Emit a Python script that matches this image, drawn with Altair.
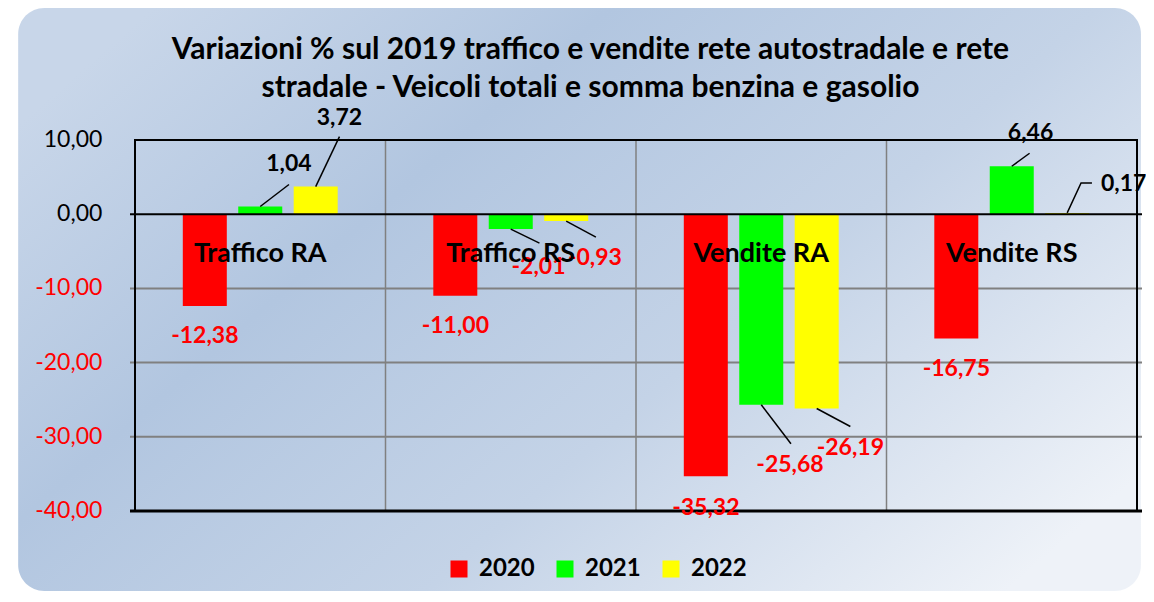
import altair as alt
import pandas as pd

# ---------------- data ----------------
categories = ["Traffico RA", "Traffico RS", "Vendite RA", "Vendite RS"]
years = ["2020", "2021", "2022"]
values_2020 = [-12.38, -11.00, -35.32, -16.75]
values_2021 = [1.04, -2.01, -25.68, 6.46]
values_2022 = [3.72, -0.93, -26.19, 0.17]
series = [values_2020, values_2021, values_2022]
year_colors = ["#ff0000", "#00ff00", "#ffff00"]
y_ticks = [-40, -30, -20, -10, 0, 10]
title_lines = [
    "Variazioni % sul 2019 traffico e vendite rete autostradale e rete",
    "stradale - Veicoli totali e somma benzina e gasolio",
]

# ---------------- layout / style (pixels) ----------------
W, H = 1012, 371
X_DOM = [0, len(categories)]
Y_DOM = [-40, 10]
PX_X = W / (X_DOM[1] - X_DOM[0])
PX_Y = H / (Y_DOM[1] - Y_DOM[0])
BAR_STEP = 56
BAR_W = 44
CAT_LABEL_Y = -5.3
PAD = {"left": 122, "top": 132, "right": 4, "bottom": 80}


def px_to_x(px):
    return X_DOM[0] + px / PX_X


def px_to_y(py):  # py measured downward from the top of the plot area
    return Y_DOM[1] - py / PX_Y


# label offsets (px, +y = down) from the end of each bar, per year / category
text_off = [
    [(0, 30), (0, 30), (0, 32), (0, 31)],
    [(29, -42), (28, 38), (29, 60), (19, -33)],
    [(24, -69), (29, 37), (34, 39), (57, -29)],
]
# leader-line points (px) from the end of each bar
leader_pts = [
    [None, None, None, None],
    [[(0, 0), (29, -22)], [(0, 0), (29, 14)], [(0, 0), (30, 39)], [(0, 0), (18, -13)]],
    [[(0, 0), (24, -50)], [(0, 0), (30, 16)], [(0, 0), (34, 18)], [(0, 0), (14, -30), (25, -30)]],
]

rows, lrows = [], []
for yi, (yr, vals) in enumerate(zip(years, series)):
    for ci, cat in enumerate(categories):
        v = vals[ci]
        xc = ci + 0.5 + (yi - 1) * BAR_STEP / PX_X
        tdx, tdy = text_off[yi][ci]
        rows.append(dict(
            category=cat, year=yr, value=v, xc=xc,
            lx=xc + tdx / PX_X, ly=v - tdy / PX_Y,
            label=f"{v:.2f}".replace(".", ","),
        ))
        pts = leader_pts[yi][ci]
        if pts:
            for k, (px, py) in enumerate(pts):
                lrows.append(dict(lid=f"{yr}-{cat}", order=k,
                                  x=xc + px / PX_X, y=v - py / PX_Y))

df = pd.DataFrame(rows)
ldf = pd.DataFrame(lrows)
cdf = pd.DataFrame({"category": categories,
                    "cx": [i + 0.5 for i in range(len(categories))],
                    "cy": [CAT_LABEL_Y] * len(categories)})
tick_df = pd.DataFrame({"v": y_ticks,
                        "t": [f"{t:.2f}".replace(".", ",") for t in y_ticks],
                        "tx": [px_to_x(-33)] * len(y_ticks)})
grid_h = pd.DataFrame({"v": [t for t in y_ticks if t not in (0, Y_DOM[0], Y_DOM[1])]})
grid_v = pd.DataFrame({"v": list(range(X_DOM[0] + 1, X_DOM[1]))})
zero_df = pd.DataFrame({"v": [0]})
frame_df = pd.DataFrame({"x0": [X_DOM[0]], "x1": [X_DOM[1]], "y0": [Y_DOM[0]], "y1": [Y_DOM[1]]})
bottom_df = pd.DataFrame({"v": [Y_DOM[0]]})
bg_df = pd.DataFrame({"x0": [px_to_x(-118)], "x1": [px_to_x(W + PAD["right"])],
                      "y0": [px_to_y(-PAD["top"])], "y1": [px_to_y(H + PAD["bottom"])]})
title_df = pd.DataFrame({"t": title_lines,
                         "tx": [px_to_x(460)] * 2,
                         "ty": [px_to_y(-90), px_to_y(-52)]})

FONT = "Lato"
xscale = alt.Scale(domain=X_DOM, nice=False, zero=False)
yscale = alt.Scale(domain=Y_DOM, nice=False, zero=False)


def X(f):
    return alt.X(f, scale=xscale, axis=None)


def Y(f):
    return alt.Y(f, scale=yscale, axis=None)


grad = alt.Gradient(
    gradient="linear", x1=0, y1=0.2, x2=1, y2=0.8,
    stops=[
        alt.GradientStop(color="#c8d6e9", offset=0),
        alt.GradientStop(color="#b2c6e0", offset=0.3),
        alt.GradientStop(color="#c4d3e7", offset=0.62),
        alt.GradientStop(color="#eef2f8", offset=1),
    ],
)

bg = alt.Chart(bg_df).mark_rect(fill=grad, cornerRadius=26).encode(
    x=X("x0:Q"), x2="x1:Q", y=Y("y0:Q"), y2="y1:Q"
)

hgrid = alt.Chart(grid_h).mark_rule(color="#808080", strokeWidth=2).encode(y=Y("v:Q"))
vgrid = alt.Chart(grid_v).mark_rule(color="#808080", strokeWidth=1.5).encode(x=X("v:Q"))

bars = alt.Chart(df).mark_bar(size=BAR_W, orient="vertical").encode(
    x=X("xc:Q"),
    y=Y("value:Q"),
    color=alt.Color(
        "year:N",
        scale=alt.Scale(domain=years, range=year_colors),
        legend=alt.Legend(
            title=None, orient="none", legendX=317, legendY=417, direction="horizontal",
            symbolType="square", symbolSize=289, symbolStrokeWidth=0,
            labelFont=FONT, labelFontSize=24, labelFontWeight="bold", labelColor="#000000",
            labelOffset=8, columnPadding=18,
        ),
    ),
)

zero = alt.Chart(zero_df).mark_rule(color="#000000", strokeWidth=2).encode(y=Y("v:Q"))
bottom = alt.Chart(bottom_df).mark_rule(color="#000000", strokeWidth=3).encode(y=Y("v:Q"))

frame = alt.Chart(frame_df).mark_rect(fillOpacity=0, stroke="#000000", strokeWidth=2).encode(
    x=X("x0:Q"), x2="x1:Q", y=Y("y0:Q"), y2="y1:Q"
)

leaders = alt.Chart(ldf).mark_line(color="#000000", strokeWidth=1.5).encode(
    x=X("x:Q"), y=Y("y:Q"), detail="lid:N", order="order:Q"
)

neg_labels = alt.Chart(df).transform_filter("datum.value < 0").mark_text(
    font=FONT, fontSize=23, fontWeight="bold", align="center", baseline="middle", color="#ff0000"
).encode(x=X("lx:Q"), y=Y("ly:Q"), text="label:N")

pos_labels = alt.Chart(df).transform_filter("datum.value >= 0").mark_text(
    font=FONT, fontSize=23, fontWeight="bold", align="center", baseline="middle", color="#000000"
).encode(x=X("lx:Q"), y=Y("ly:Q"), text="label:N")

clabels = alt.Chart(cdf).mark_text(
    font=FONT, fontSize=27, fontWeight="bold", align="center", baseline="middle", color="#000000"
).encode(x=X("cx:Q"), y=Y("cy:Q"), text="category:N")

ytick_neg = alt.Chart(tick_df).transform_filter("datum.v < 0").mark_text(
    font=FONT, fontSize=23, align="right", baseline="middle", color="#ff0000"
).encode(x=X("tx:Q"), y=Y("v:Q"), text="t:N")
ytick_pos = alt.Chart(tick_df).transform_filter("datum.v >= 0").mark_text(
    font=FONT, fontSize=23, align="right", baseline="middle", color="#000000"
).encode(x=X("tx:Q"), y=Y("v:Q"), text="t:N")

title = alt.Chart(title_df).mark_text(
    font=FONT, fontSize=30, fontWeight="bold", align="center", baseline="middle", color="#000000"
).encode(x=X("tx:Q"), y=Y("ty:Q"), text="t:N")

chart = alt.layer(
    bg, hgrid, vgrid, bars, zero, frame, bottom, leaders, neg_labels, pos_labels, clabels,
    ytick_neg, ytick_pos, title
).properties(
    width=W, height=H,
    padding=PAD,
    autosize=alt.AutoSizeParams(type="none"),
    background="#ffffff",
).configure_view(strokeWidth=0)

chart.save("out.html", embed_options={"renderer": "svg", "actions": False})
